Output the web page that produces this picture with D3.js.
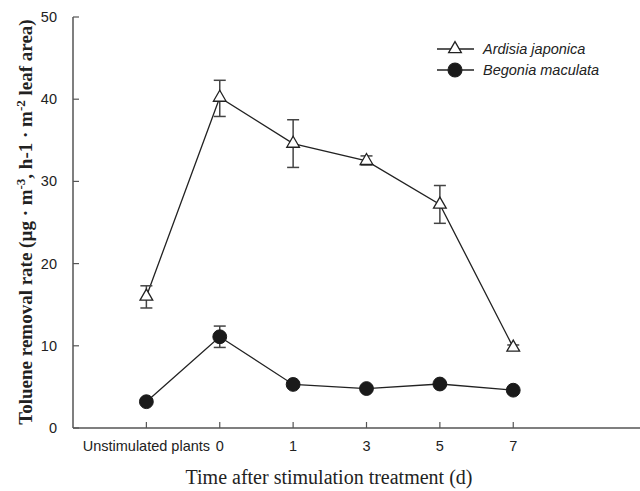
<!DOCTYPE html>
<html>
<head>
<meta charset="utf-8">
<script src="https://cdn.jsdelivr.net/npm/d3@7"></script>
<style>
  body { margin: 0; background: #fff; }
  .tick-label { font-family: "Liberation Sans", Arial, sans-serif; font-size: 14.5px; fill: #222; }
</style>
</head>
<body>
<div id="chart"></div>
<script>
// categories on the x axis (positions 1..6)
const categories = ["Unstimulated plants", "0", "1", "3", "5", "7"];
const yTicks = [0, 10, 20, 30, 40, 50];

// Ardisia japonica: mean and error (upper / lower)
const ardisiaMean = [16.0, 40.2, 34.6, 32.5, 27.2, 9.8];
const ardisiaHi = [17.3, 42.3, 37.5, 33.1, 29.5, 10.1];
const ardisiaLo = [14.6, 37.9, 31.7, 32.0, 24.9, 9.5];

// Begonia maculata
const begoniaMean = [3.2, 11.1, 5.3, 4.8, 5.35, 4.6];
const begoniaHi = [3.5, 12.4, 5.6, 5.1, 5.6, 4.9];
const begoniaLo = [2.9, 9.8, 5.0, 4.5, 5.1, 4.3];

const width = 640, height = 491;
const svg = d3.select("#chart").append("svg")
  .attr("width", width)
  .attr("height", height);

const x = d3.scaleLinear().domain([0, 8]).range([73, 660]);
const y = d3.scaleLinear().domain([0, 50]).range([428, 17]);

const axisColor = "#555";
const lineColor = "#222";

// axes: left and bottom only, ticks pointing inward
svg.append("line")
  .attr("x1", x(0)).attr("x2", x(0))
  .attr("y1", y(50)).attr("y2", y(0))
  .attr("stroke", axisColor).attr("stroke-width", 1.5);
svg.append("line")
  .attr("x1", x(0)).attr("x2", x(8))
  .attr("y1", y(0)).attr("y2", y(0))
  .attr("stroke", axisColor).attr("stroke-width", 1.5);

svg.selectAll(".ytick")
  .data(yTicks)
  .enter()
  .append("line")
  .attr("class", "ytick")
  .attr("x1", x(0)).attr("x2", x(0) + 6)
  .attr("y1", (d) => y(d)).attr("y2", (d) => y(d))
  .attr("stroke", axisColor).attr("stroke-width", 1.2);

svg.selectAll(".ylabel")
  .data(yTicks)
  .enter()
  .append("text")
  .attr("class", "tick-label")
  .attr("x", x(0) - 16)
  .attr("y", (d) => y(d) + 5)
  .attr("text-anchor", "end")
  .text((d) => d);

svg.selectAll(".xtick")
  .data(categories)
  .enter()
  .append("line")
  .attr("x1", (d, i) => x(i + 1)).attr("x2", (d, i) => x(i + 1))
  .attr("y1", y(0)).attr("y2", y(0) - 6)
  .attr("stroke", axisColor).attr("stroke-width", 1.2);

svg.selectAll(".xlabel")
  .data(categories)
  .enter()
  .append("text")
  .attr("class", "tick-label")
  .attr("x", (d, i) => x(i + 1))
  .attr("y", 451)
  .attr("text-anchor", "middle")
  .text((d) => d);

// axis titles
svg.append("text")
  .attr("x", 329)
  .attr("y", 484)
  .attr("text-anchor", "middle")
  .style("font-family", "'Liberation Serif', 'Times New Roman', serif")
  .style("font-size", "20px")
  .attr("fill", "#222")
  .text("Time after stimulation treatment (d)");

const yTitle = svg.append("text")
  .attr("transform", "translate(32,222) rotate(-90)")
  .attr("text-anchor", "middle")
  .style("font-family", "'Liberation Serif', 'Times New Roman', serif")
  .style("font-size", "19px")
  .style("font-weight", "bold")
  .attr("fill", "#222");
yTitle.append("tspan").text("Toluene removal rate (µg · m");
yTitle.append("tspan").attr("dy", -7).style("font-size", "13px").text("-3");
yTitle.append("tspan").attr("dy", 7).text(", h-1 · m");
yTitle.append("tspan").attr("dy", -7).style("font-size", "13px").text("-2");
yTitle.append("tspan").attr("dy", 7).text(" leaf area)");

const line = d3.line()
  .x((d, i) => x(i + 1))
  .y((d) => y(d));

function drawSeries(mean, hi, lo, marker) {
  svg.append("path")
    .datum(mean)
    .attr("d", line)
    .attr("fill", "none")
    .attr("stroke", lineColor)
    .attr("stroke-width", 1.3);

  const eb = svg.append("g").attr("stroke", "#444").attr("stroke-width", 1.5);
  mean.forEach((m, i) => {
    const cx = x(i + 1);
    eb.append("line").attr("x1", cx).attr("x2", cx).attr("y1", y(hi[i])).attr("y2", y(lo[i]));
    eb.append("line").attr("x1", cx - 6).attr("x2", cx + 6).attr("y1", y(hi[i])).attr("y2", y(hi[i]));
    eb.append("line").attr("x1", cx - 6).attr("x2", cx + 6).attr("y1", y(lo[i])).attr("y2", y(lo[i]));
  });

  const sym = svg.selectAll(null)
    .data(mean)
    .enter()
    .append("path")
    .attr("transform", (d, i) => `translate(${x(i + 1)},${y(d)})`);
  marker(sym);
}

const triangle = d3.symbol().type(d3.symbolTriangle).size(70);
const circle = d3.symbol().type(d3.symbolCircle).size(150);

drawSeries(ardisiaMean, ardisiaHi, ardisiaLo, (s) =>
  s.attr("d", triangle).attr("fill", "#fff").attr("stroke", lineColor).attr("stroke-width", 1.3)
);
drawSeries(begoniaMean, begoniaHi, begoniaLo, (s) =>
  s.attr("d", circle).attr("fill", "#1a1a1a").attr("stroke", "#1a1a1a")
);

// legend
const legend = svg.append("g");
const legendItems = [
  { name: "Ardisia japonica", sym: triangle, fill: "#fff", yy: 49 },
  { name: "Begonia maculata", sym: circle, fill: "#1a1a1a", yy: 70 }
];
legendItems.forEach((d) => {
  legend.append("line")
    .attr("x1", 437).attr("x2", 474)
    .attr("y1", d.yy).attr("y2", d.yy)
    .attr("stroke", lineColor).attr("stroke-width", 1.3);
  legend.append("path")
    .attr("d", d.sym)
    .attr("transform", `translate(455,${d.yy})`)
    .attr("fill", d.fill)
    .attr("stroke", lineColor)
    .attr("stroke-width", 1.3);
  legend.append("text")
    .attr("class", "tick-label")
    .attr("x", 483)
    .attr("y", d.yy + 5)
    .style("font-style", "italic")
    .text(d.name);
});
</script>
</body>
</html>
